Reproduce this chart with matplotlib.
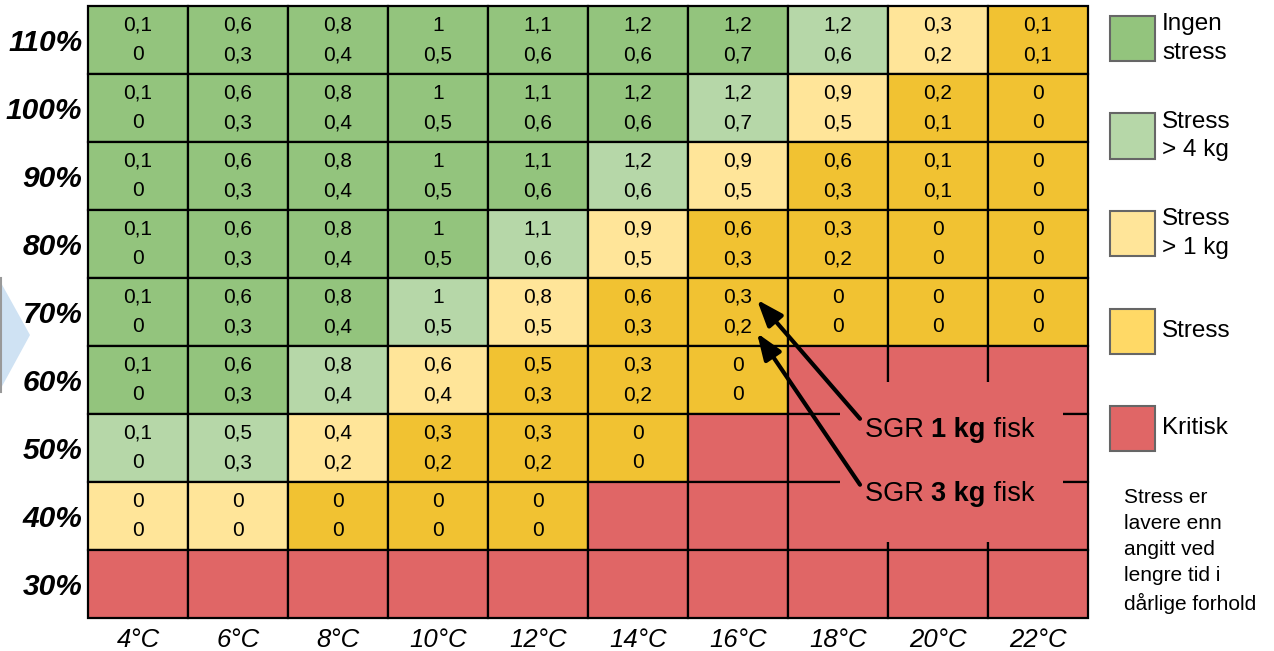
import numpy as np
import matplotlib
matplotlib.use("Agg")
import matplotlib.pyplot as plt
from matplotlib.patches import Rectangle, Polygon
from matplotlib.lines import Line2D

plt.rcParams['font.family'] = ['Liberation Sans', 'DejaVu Sans']

# rader fra topp (110%) til bunn (30%), kolonner 4..22 grader
temps = ['4°C', '6°C', '8°C', '10°C', '12°C', '14°C', '16°C', '18°C', '20°C', '22°C']
oxygen = ['110%', '100%', '90%', '80%', '70%', '60%', '50%', '40%', '30%']

N = None
sgr_1kg = [
    [0.1, 0.6, 0.8, 1, 1.1, 1.2, 1.2, 1.2, 0.3, 0.1],
    [0.1, 0.6, 0.8, 1, 1.1, 1.2, 1.2, 0.9, 0.2, 0],
    [0.1, 0.6, 0.8, 1, 1.1, 1.2, 0.9, 0.6, 0.1, 0],
    [0.1, 0.6, 0.8, 1, 1.1, 0.9, 0.6, 0.3, 0, 0],
    [0.1, 0.6, 0.8, 1, 0.8, 0.6, 0.3, 0, 0, 0],
    [0.1, 0.6, 0.8, 0.6, 0.5, 0.3, 0, N, N, N],
    [0.1, 0.5, 0.4, 0.3, 0.3, 0, N, N, N, N],
    [0, 0, 0, 0, 0, N, N, N, N, N],
    [N, N, N, N, N, N, N, N, N, N],
]
sgr_3kg = [
    [0, 0.3, 0.4, 0.5, 0.6, 0.6, 0.7, 0.6, 0.2, 0.1],
    [0, 0.3, 0.4, 0.5, 0.6, 0.6, 0.7, 0.5, 0.1, 0],
    [0, 0.3, 0.4, 0.5, 0.6, 0.6, 0.5, 0.3, 0.1, 0],
    [0, 0.3, 0.4, 0.5, 0.6, 0.5, 0.3, 0.2, 0, 0],
    [0, 0.3, 0.4, 0.5, 0.5, 0.3, 0.2, 0, 0, 0],
    [0, 0.3, 0.4, 0.4, 0.3, 0.2, 0, N, N, N],
    [0, 0.3, 0.2, 0.2, 0.2, 0, N, N, N, N],
    [0, 0, 0, 0, 0, N, N, N, N, N],
    [N, N, N, N, N, N, N, N, N, N],
]
# G = ingen stress, L = stress > 4 kg, Y = stress > 1 kg, S = stress, R = kritisk
status = [
    "GGGGGGGLYS",
    "GGGGGGLYSS",
    "GGGGGLYSSS",
    "GGGGLYSSSS",
    "GGGLYSSSSS",
    "GGLYSSSRRR",
    "LLYSSSRRRR",
    "YYSSSRRRRR",
    "RRRRRRRRRR",
]

cell_colors = {'G': '#93c47d', 'L': '#b6d7a8', 'Y': '#ffe599', 'S': '#f1c232', 'R': '#e06666'}
legend_items = [('#93c47d', 'Ingen\nstress'), ('#b6d7a8', 'Stress\n> 4 kg'),
                ('#ffe599', 'Stress\n> 1 kg'), ('#ffd966', 'Stress'), ('#e06666', 'Kritisk')]
note = "Stress er\nlavere enn\nangitt ved\nlengre tid i\ndårlige forhold"

W, H = 1274, 651
fig = plt.figure(figsize=(W / 100, H / 100), dpi=100)
ax = fig.add_axes([88 / W, (H - 618) / H, 1000 / W, 612 / H])
ax.set_xlim(0, len(temps))
ax.set_ylim(len(oxygen), 0)
for s in ax.spines.values():
    s.set_visible(False)


def fmt(v):
    return f"{v:g}".replace('.', ',')


for r in range(len(oxygen)):
    for c in range(len(temps)):
        ax.add_patch(Rectangle((c, r), 1, 1, facecolor=cell_colors[status[r][c]],
                               edgecolor='black', lw=1.6, clip_on=False, zorder=1))
        if sgr_1kg[r][c] is not None:
            ax.text(c + 0.5, r + 0.28, fmt(sgr_1kg[r][c]), ha='center', va='center', fontsize=15, zorder=3)
            ax.text(c + 0.5, r + 0.72, fmt(sgr_3kg[r][c]), ha='center', va='center', fontsize=15, zorder=3)

# rød flate bak teksten som skjuler rutenettet
ax.add_patch(Rectangle((7.52, 5.53), 2.23, 2.35, facecolor=cell_colors['R'], edgecolor='none', zorder=2))

ax.set_xticks(np.arange(len(temps)) + 0.5, temps, fontsize=18.5, fontstyle='italic')
ax.set_yticks(np.arange(len(oxygen)) + 0.5, oxygen, fontsize=21.5, fontstyle='italic', fontweight='bold')
ax.tick_params(length=0)
ax.tick_params(axis='x', pad=7)
ax.tick_params(axis='y', pad=4)

# piler og tekst
arrow = dict(arrowstyle='-|>,head_length=0.8,head_width=0.3', lw=3, color='black',
             mutation_scale=20, shrinkA=0, shrinkB=0)
ax.annotate('', xy=(6.69, 4.32), xytext=(7.72, 6.07), arrowprops=arrow, zorder=4)
ax.annotate('', xy=(6.69, 4.81), xytext=(7.72, 7.04), arrowprops=arrow, zorder=4)

for yy, kg in [(6.24, '1 kg'), (7.18, '3 kg')]:
    t1 = ax.text(7.77, yy, 'SGR ', ha='left', va='center', fontsize=19.5, zorder=5)
    t2 = ax.annotate(kg, xy=(1, 0), xycoords=t1, ha='left', va='bottom', fontsize=19.5,
                     fontweight='bold', zorder=5)
    ax.annotate(' fisk', xy=(1, 0), xycoords=t2, ha='left', va='bottom', fontsize=19.5, zorder=5)

# legende til høyre
for i, (col, lab) in enumerate(legend_items):
    cy = 38.5 + 97.5 * i
    fig.add_artist(Rectangle((1110 / W, 1 - (cy + 22.5) / H), 45 / W, 45 / H,
                             facecolor=col, edgecolor='#666666', lw=1.5, transform=fig.transFigure))
    fig.text(1162 / W, 1 - cy / H, lab, ha='left', va='center', fontsize=17.5, linespacing=1.38)

fig.text(1124 / W, 1 - 551 / H, note, ha='left', va='center', fontsize=15, linespacing=1.48)

# lyseblå pil til venstre (delvis synlig)
fig.add_artist(Polygon([[0, 1 - 281 / H], [30 / W, 1 - 335 / H], [0, 1 - 390 / H]], closed=True,
                       facecolor='#cfe2f3', edgecolor='none', transform=fig.transFigure))
fig.add_artist(Line2D([1 / W, 1 / W], [1 - 278 / H, 1 - 392 / H], color='#999999', lw=1.5,
                      transform=fig.transFigure))

fig.savefig('out.png', dpi=100)
